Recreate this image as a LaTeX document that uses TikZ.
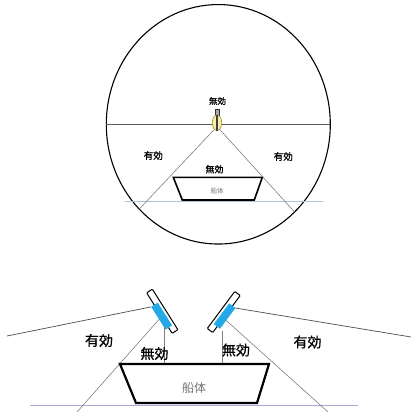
\documentclass[tikz,border=0pt]{standalone}
\usepackage{fontspec}
\usetikzlibrary{calc,shapes.geometric}
\newfontfamily\jpfont{Noto Sans CJK JP}
\newfontfamily\jpboldish[FakeBold=0.6]{Noto Sans CJK JP}
\definecolor{seablue}{HTML}{A9C6E0}
\definecolor{seablue2}{HTML}{A4AAD2}
\definecolor{mirrorblue}{RGB}{35,170,230}
\definecolor{lampfill}{HTML}{F4F0A6}
\definecolor{lampedge}{HTML}{A89A3C}
\tikzset{
  lbl/.style={inner sep=0pt, text=black},
  hull/.style={draw=black, line width=2pt, line join=miter},
  hulllbl/.style={inner sep=0pt, text=black!55},
  beam/.style={draw=black!50, line width=0.6pt},
  ray/.style={draw=black!70, line width=0.7pt},
  mirrorbox/.style={draw=black, fill=white, line width=1pt, rounded corners=0.8pt},
  mirrorface/.style={fill=mirrorblue, draw=none}
}
\begin{document}
\begin{tikzpicture}[x=1pt,y=-1pt]
\useasboundingbox (0,0) rectangle (411,412);

% ---------- plan view: lamp on the mast, dome of coverage ----------
\node[ellipse, draw=black, line width=1.1pt, inner sep=0pt, outer sep=0pt,
      minimum width=224pt, minimum height=239.5pt] (dome) at (218.3,124.3) {};
\draw[draw=black!65, line width=0.6pt] (dome.west) -- (dome.east);

% waterline and hull
\coordinate (w1) at (125,201);
\coordinate (w2) at (323,201);
\draw[seablue, line width=0.9pt] (w1) -- (w2);
\coordinate (h1) at (173.3,177.3);
\coordinate (h2) at (262.3,177.3);
\coordinate (h3) at (254.3,200);
\coordinate (h4) at (182.3,200);
\draw[hull, line width=1.6pt] (h1) -- (h2) -- (h3) -- (h4) -- cycle;
\node[hulllbl, font=\jpfont\fontsize{6.5}{7}\selectfont] (hullA) at (217,191.5) {船体};

% lamp
\node[draw=black!80, fill=black!35, line width=0.6pt, inner sep=0pt,
      minimum width=4.2pt, minimum height=5.6pt] (cap) at (217.2,112.2) {};
\node[ellipse, draw=lampedge, fill=lampfill, line width=0.7pt, inner sep=0pt,
      minimum width=9.4pt, minimum height=15.5pt] (lamp) at (217,122.7) {};
\draw[black!75, line width=1.8pt] (lamp.north) -- (lamp.south);

% light cone edges
\draw[beam] (lamp.-112) -- (dome.227.3);
\draw[beam] (lamp.-68) -- (dome.-49.7);

\node[lbl, font=\jpboldish\fontsize{8.5}{9}\selectfont] (offTop) at (217.5,101) {無効};
\node[lbl, font=\jpboldish\fontsize{9.5}{10}\selectfont] (onL) at (153.3,155.5) {有効};
\node[lbl, font=\jpboldish\fontsize{9.5}{10}\selectfont] (onR) at (283.3,156.5) {有効};
\node[lbl, font=\jpboldish\fontsize{9}{10}\selectfont] (offMid) at (214.5,169.3) {無効};

% ---------- side view: two side lights on the hull ----------
\coordinate (s1) at (30,405);
\coordinate (s2) at (358,405);
\draw[seablue2, line width=0.9pt] (s1) -- (s2);
\coordinate (k1) at (120,364);
\coordinate (k2) at (269,364);
\coordinate (k3) at (257,403);
\coordinate (k4) at (136,403);

% left light
\coordinate (LT) at (149.5,291);
\coordinate (LB) at (175,331.5);
\draw[mirrorbox] ($(LT)!3.4pt!90:(LB)$) -- ($(LT)!3.4pt!-90:(LB)$)
  -- ($(LB)!3.4pt!90:(LT)$) -- ($(LB)!3.4pt!-90:(LT)$) -- cycle;
\coordinate (La) at ($(LT)!0.30!(LB)!0.8pt!90:(LB)$);
\coordinate (Lb) at ($(LT)!0.86!(LB)!0.8pt!90:(LB)$);
\coordinate (Lc) at ($(LT)!0.86!(LB)!7pt!-90:(LB)$);
\coordinate (Ld) at ($(LT)!0.30!(LB)!7pt!-90:(LB)$);
\fill[mirrorface] (La) -- (Lb) -- (Lc) -- (Ld) -- cycle;

% right light
\coordinate (RT) at (237.5,293.5);
\coordinate (RB) at (210,330.5);
\draw[mirrorbox] ($(RT)!3.4pt!90:(RB)$) -- ($(RT)!3.4pt!-90:(RB)$)
  -- ($(RB)!3.4pt!90:(RT)$) -- ($(RB)!3.4pt!-90:(RT)$) -- cycle;
\coordinate (Ra) at ($(RT)!0.28!(RB)!0.8pt!-90:(RB)$);
\coordinate (Rb) at ($(RT)!0.84!(RB)!0.8pt!-90:(RB)$);
\coordinate (Rc) at ($(RT)!0.84!(RB)!7pt!90:(RB)$);
\coordinate (Rd) at ($(RT)!0.28!(RB)!7pt!90:(RB)$);
\fill[mirrorface] (Ra) -- (Rb) -- (Rc) -- (Rd) -- cycle;

% sector boundaries
\coordinate (farL) at (7,336);
\coordinate (farR) at (411,337);
\coordinate (lowL) at (77,412);
\coordinate (lowR) at (328,412);
\draw[ray] (Ld) -- (farL);
\draw[ray] (Rd) -- (farR);
\draw[beam] ($(Ld)!0.55!(Lc)$) -- (lowL);
\draw[beam] ($(Rd)!0.6!(Rc)$) -- (lowR);
\coordinate (vL) at (164.5,326);
\coordinate (vR) at (222,331);
\draw[beam] (vL) -- (vL |- k1);
\draw[beam] (vR) -- (vR |- k1);

\draw[hull, line width=2.2pt] (k1) -- (k2) -- (k3) -- (k4) -- cycle;
\node[hulllbl, font=\jpfont\fontsize{12}{13}\selectfont] (hullB) at (194,388.3) {船体};

\node[lbl, font=\jpboldish\fontsize{14}{15}\selectfont] (onBL) at (99,340.5) {有効};
\node[lbl, font=\jpboldish\fontsize{14}{15}\selectfont] (offBL) at (154.5,353.5) {無効};
\node[lbl, font=\jpboldish\fontsize{14}{15}\selectfont] (offBR) at (236,350) {無効};
\node[lbl, font=\jpboldish\fontsize{14}{15}\selectfont] (onBR) at (307.5,342) {有効};
\end{tikzpicture}
\end{document}
